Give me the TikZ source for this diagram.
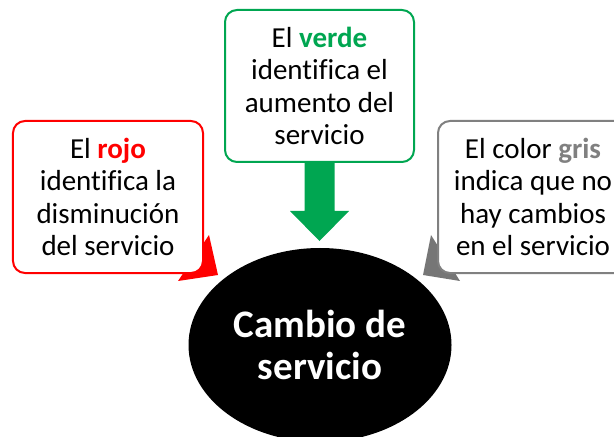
\documentclass[tikz,border=0pt]{standalone}
\usepackage{fontspec}
\setmainfont{Carlito}[Ligatures=NoCommon]
\usetikzlibrary{shapes.geometric}
\definecolor{gcol}{RGB}{0,166,81}
\definecolor{rcol}{RGB}{255,0,0}
\definecolor{gray1}{RGB}{118,118,118}
\definecolor{gray2}{RGB}{128,128,128}
\tikzset{
  callbox/.style={draw, line width=2bp, rounded corners=12bp, fill=white,
    minimum width=190bp, minimum height=152bp, inner sep=0pt,
    align=center, font=\fontsize{29bp}{32.5bp}\selectfont},
  bigell/.style={ellipse, fill=black, minimum width=263bp, minimum height=194bp,
    inner sep=0pt, align=center, text=white,
    font=\fontsize{39bp}{42bp}\selectfont\bfseries},
  tailfill/.style={line width=0pt}
}
\begin{document}
\begin{tikzpicture}[x=1bp,y=-1bp]
\useasboundingbox (0,0) rectangle (614,437);
\clip (0,0) rectangle (614,437);
% ellipse
\node[bigell] (ell) at (320,345) {Cambio de\\servicio};
% tails (drawn under boxes)
\fill[rcol] (209,235) -- (218,275) -- (178,281) -- cycle;
\fill[gray1] (431,235) -- (423,275) -- (460,281) -- cycle;
% boxes
\node[callbox, draw=rcol] (red) at (108,197) {El \textcolor{rcol}{\bfseries rojo}\\identifica la\\disminución\\del servicio};
\node[callbox, draw=gcol, minimum width=189bp] (green) at (319.5,86) {El \textcolor{gcol}{\bfseries verde}\\identifica el\\aumento del\\servicio};
\node[callbox, draw=gray2] (gray) at (533,197) {El color \textcolor{gray2}{\bfseries gris}\\indica que no\\hay cambios\\en el servicio};
% green arrow from green box toward ellipse
\begin{scope}[shift={(green.south)}]
\fill[gcol] (-15,0) -- (15,0) -- (15,48) -- (29.5,48) -- (0,78) -- (-29.5,48) -- (-15,48) -- cycle;
\end{scope}
\end{tikzpicture}
\end{document}
